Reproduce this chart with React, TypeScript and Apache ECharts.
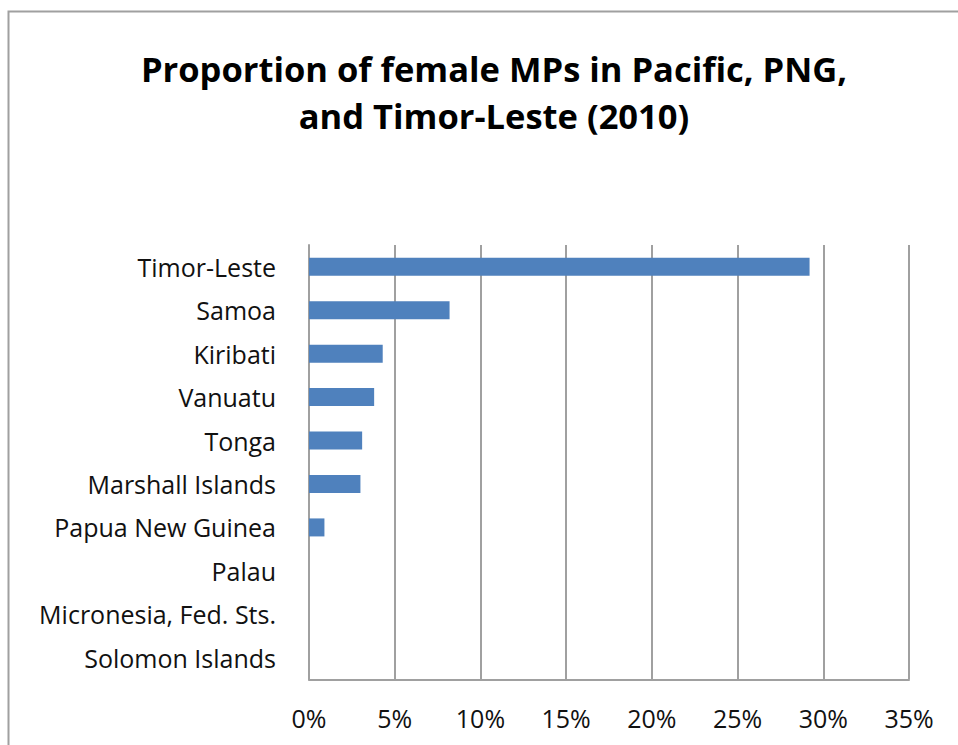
import React, { useEffect, useRef } from "react";
import * as echarts from "echarts";

const categories = [
  "Timor-Leste",
  "Samoa",
  "Kiribati",
  "Vanuatu",
  "Tonga",
  "Marshall Islands",
  "Papua New Guinea",
  "Palau",
  "Micronesia, Fed. Sts.",
  "Solomon Islands",
];
const values = [29.2, 8.2, 4.3, 3.8, 3.1, 3.0, 0.9, 0, 0, 0];
const titleLines = ["Proportion of female MPs in Pacific, PNG,", "and Timor-Leste (2010)"];

const FONT = "'Open Sans', sans-serif";

export default function App() {
  const ref = useRef<HTMLDivElement>(null);
  useEffect(() => {
    if (!ref.current) return;
    const chart = echarts.init(ref.current, undefined, { renderer: "svg" });
    chart.setOption({
      animation: false,
      backgroundColor: "#ffffff",
      title: {
        text: titleLines.join("\n"),
        left: 489,
        top: 40,
        textAlign: "center",
        textStyle: {
          fontFamily: FONT,
          fontWeight: "bold",
          fontSize: 34.5,
          lineHeight: 47,
          color: "#000000",
        },
      },
      graphic: [
        {
          type: "rect",
          shape: { x: 8.5, y: 11.5, width: 1000, height: 1000 },
          style: { fill: "none", stroke: "#a0a0a0", lineWidth: 2 },
          silent: true,
          z: -1,
        },
      ],
      grid: { left: 309, top: 245, width: 600, height: 434.5 },
      xAxis: {
        type: "value",
        min: 0,
        max: 35,
        interval: 5,
        axisLine: { show: true, lineStyle: { color: "#a0a0a0", width: 2 } },
        axisTick: { show: false },
        splitLine: { show: true, lineStyle: { color: "#a0a0a0", width: 2 } },
        axisLabel: {
          formatter: "{value}%",
          fontFamily: FONT,
          fontSize: 25,
          color: "#111111",
          margin: 26,
        },
      },
      yAxis: {
        type: "category",
        data: categories,
        inverse: true,
        axisLine: { show: true, lineStyle: { color: "#a0a0a0", width: 2 } },
        axisTick: { show: false },
        axisLabel: {
          fontFamily: FONT,
          fontSize: 25,
          color: "#111111",
          margin: 33,
        },
      },
      series: [
        {
          type: "bar",
          data: values,
          barWidth: 18,
          itemStyle: { color: "#4f81bd" },
        },
      ],
    });
    return () => chart.dispose();
  }, []);
  return (
    <div
      ref={ref}
      style={{ position: "absolute", left: 0, top: 0, width: 958, height: 745 }}
    />
  );
}
